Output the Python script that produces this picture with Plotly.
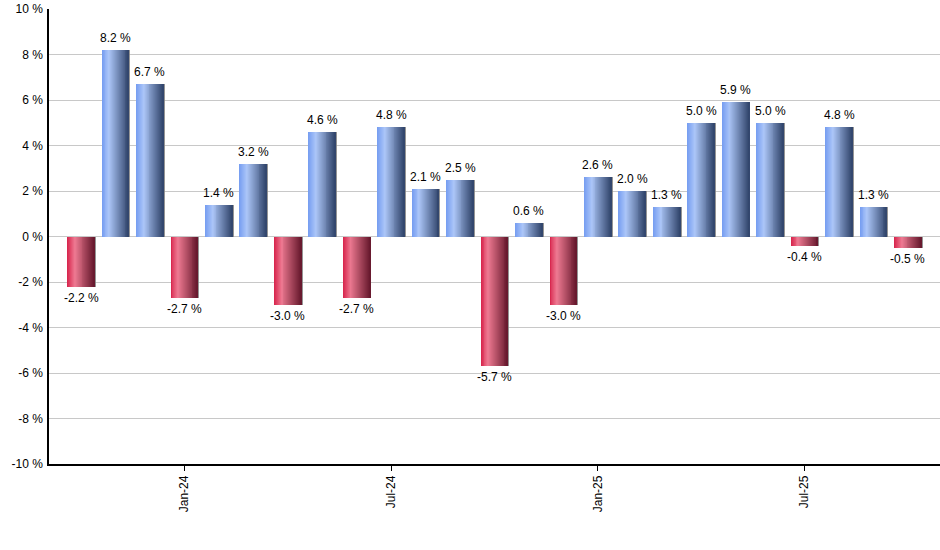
import plotly.graph_objects as go

months = ["Oct-23", "Nov-23", "Dec-23", "Jan-24", "Feb-24", "Mar-24", "Apr-24", "May-24",
          "Jun-24", "Jul-24", "Aug-24", "Sep-24", "Oct-24", "Nov-24", "Dec-24", "Jan-25",
          "Feb-25", "Mar-25", "Apr-25", "May-25", "Jun-25", "Jul-25", "Aug-25", "Sep-25", "Oct-25"]
returns = [-2.2, 8.2, 6.7, -2.7, 1.4, 3.2, -3.0, 4.6, -2.7, 4.8, 2.1, 2.5, -5.7, 0.6, -3.0,
           2.6, 2.0, 1.3, 5.0, 5.9, 5.0, -0.4, 4.8, 1.3, -0.5]
tick_months = ["Jan-24", "Jul-24", "Jan-25", "Jul-25"]
y_ticks = [-10, -8, -6, -4, -2, 0, 2, 4, 6, 8, 10]

x = list(range(len(months)))
tick_pos = [months.index(m) for m in tick_months]

BAR_W = 0.775
N = 28

blue_stops = [(0.0, (116, 156, 240)), (0.28, (172, 198, 248)), (1.0, (48, 68, 106))]
red_stops = [(0.0, (214, 34, 74)), (0.28, (238, 122, 146)), (1.0, (102, 24, 44))]


def grad(stops, t):
    for (t0, c0), (t1, c1) in zip(stops[:-1], stops[1:]):
        if t <= t1:
            f = (t - t0) / (t1 - t0)
            return "rgb(%d,%d,%d)" % tuple(round(a + (b - a) * f) for a, b in zip(c0, c1))
    return "rgb(%d,%d,%d)" % stops[-1][1]


fig = go.Figure()

# shadow
fig.add_trace(go.Bar(x=x, y=returns, width=BAR_W, offset=-BAR_W / 2 + 0.04,
                     marker=dict(color="rgba(130,130,130,0.85)", line=dict(width=0)),
                     hoverinfo="skip", showlegend=False))

sw = BAR_W / N
for k in range(N):
    t = (k + 0.5) / N
    colors = [grad(blue_stops if v >= 0 else red_stops, t) for v in returns]
    fig.add_trace(go.Bar(x=x, y=returns, width=sw * 2 if k < N - 1 else sw,
                         offset=-BAR_W / 2 + k * sw,
                         marker=dict(color=colors, line=dict(width=0)),
                         hoverinfo="skip", showlegend=False))

for i, v in zip(x, returns):
    fig.add_annotation(x=i, y=v, text="%.1f %%" % v, showarrow=False,
                       yanchor="bottom" if v >= 0 else "top",
                       yshift=3 if v >= 0 else -2,
                       font=dict(family="Liberation Sans, Arial", size=12, color="black"))

fig.update_layout(
    width=940, height=550,
    margin=dict(l=49, r=0, t=9, b=86),
    barmode="overlay",
    bargap=0,
    plot_bgcolor="white", paper_bgcolor="white",
    font=dict(family="Liberation Sans, Arial", size=12, color="black"),
    showlegend=False,
    xaxis=dict(range=[-0.93, 24.93], tickmode="array", tickvals=tick_pos, ticktext=tick_months,
               tickangle=-90, ticks="outside", ticklen=5, tickcolor="black",
               showline=True, linecolor="black", linewidth=1.5, showgrid=False,
               zeroline=False),
    yaxis=dict(range=[-10, 10], tickmode="array", tickvals=y_ticks,
               ticktext=["%d %%" % t for t in y_ticks],
               showline=True, linecolor="black", linewidth=1.5,
               showgrid=True, gridcolor="#C8C8C8", gridwidth=1,
               zeroline=False, ticks="", ticklabelstandoff=2),
)

fig.write_html("out.html", config={"displayModeBar": False},
               post_script="document.body.style.margin='0';document.body.style.overflow='hidden';")
